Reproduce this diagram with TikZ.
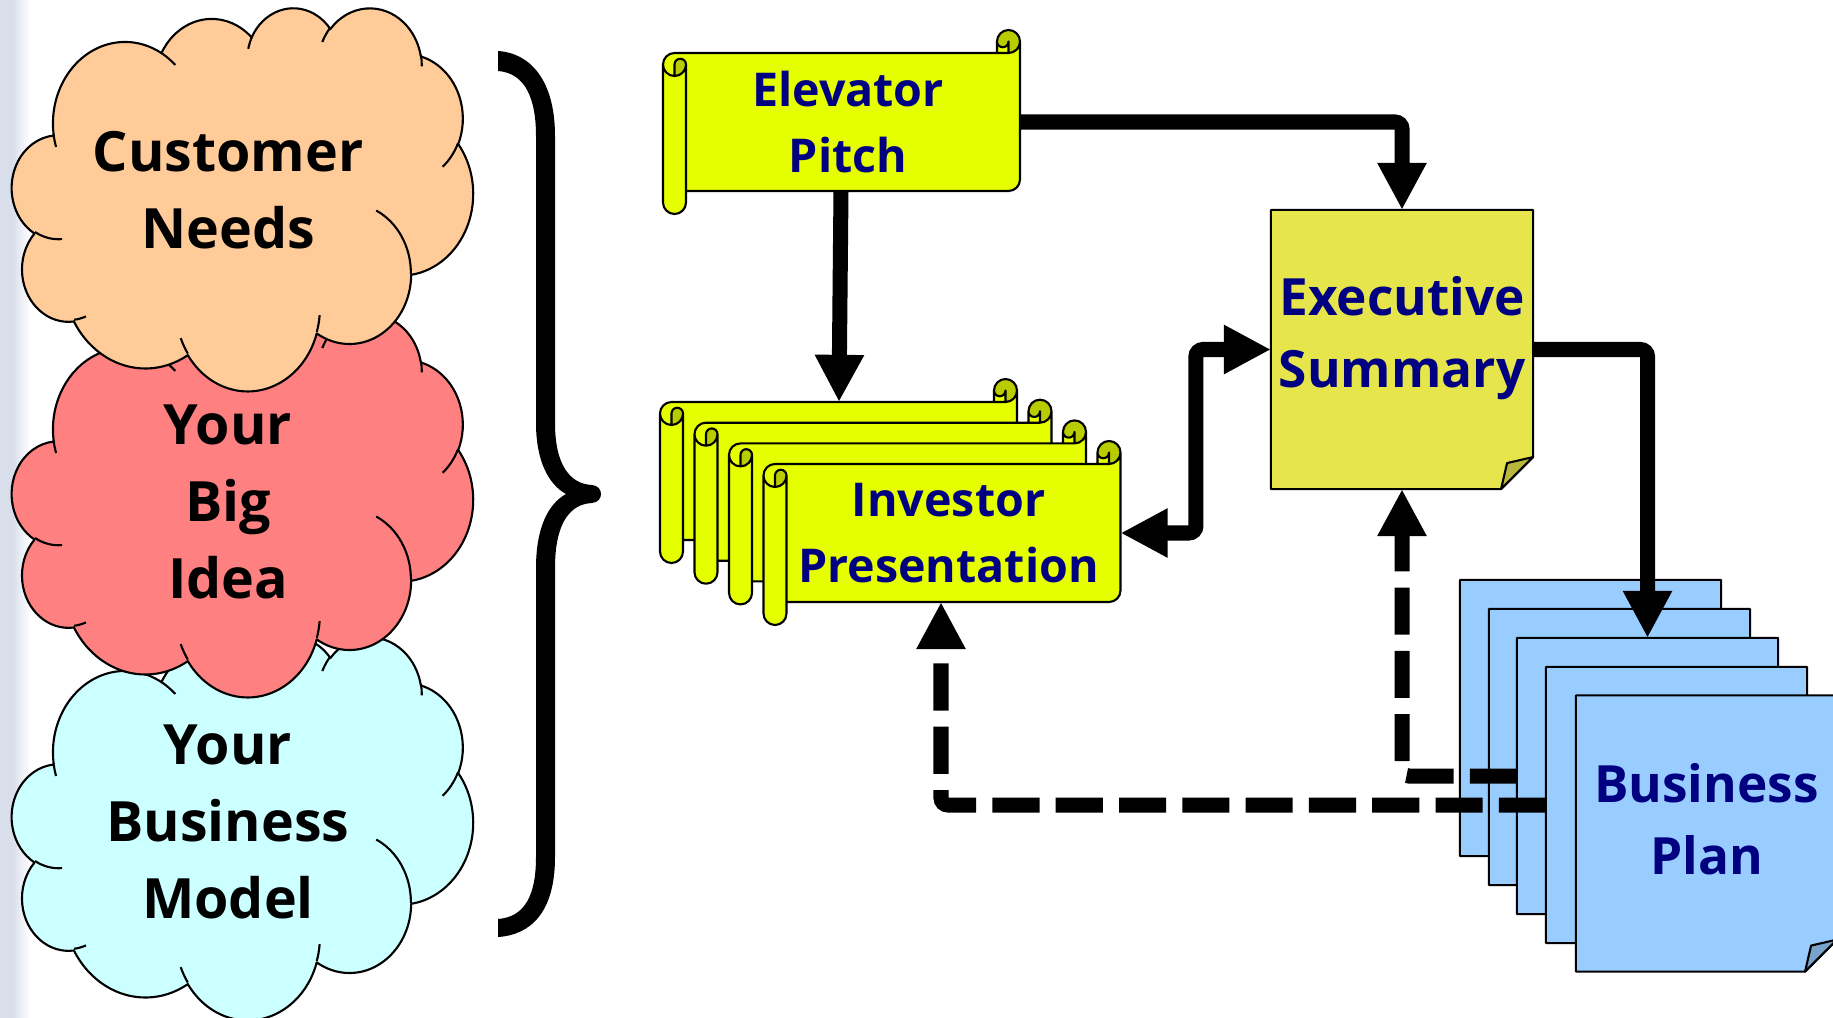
\documentclass[tikz,border=0pt]{standalone}
\usepackage{fontspec}
\setmainfont{Open Sans}
\usetikzlibrary{arrows.meta,positioning}
\definecolor{cpeach}{HTML}{FFCC99}
\definecolor{cidea}{HTML}{FF8080}
\definecolor{ccyan}{HTML}{CCFFFF}
\definecolor{scrollyel}{HTML}{E6FF00}
\definecolor{docyel}{HTML}{E6E64C}
\definecolor{docblue}{HTML}{99CCFF}
\definecolor{navy}{HTML}{000080}
\definecolor{stripgrey}{HTML}{D8DEEA}

% cloud outline, 0..100 box, scaled to 461 x 383 px
\newcommand{\ppcloud}[3]{%
  \begin{scope}[shift={(#1,#2)}, xscale=4.61, yscale=3.83]
    \filldraw[shapeline, fill=#3] (9.028,33.264)
      arc[start angle=-187.75, delta angle=128.11, x radius=15.632, y radius=21.273]
      arc[start angle=-152.02, delta angle=106.60, x radius=12.345, y radius=16.822]
      arc[start angle=-153.49, delta angle=116.16, x radius=10.104, y radius=13.762]
      arc[start angle=-139.69, delta angle=129.48, x radius=11.243, y radius=15.266]
      arc[start angle=-74.77, delta angle=97.98, x radius=12.345, y radius=16.836]
      arc[start angle=-37.53, delta angle=119.39, x radius=15.683, y radius=21.343]
      arc[start angle=0.46, delta angle=121.52, x radius=13.391, y radius=18.211]
      arc[start angle=16.84, delta angle=129.41, x radius=15.630, y radius=21.331]
      arc[start angle=58.98, delta angle=91.22, x radius=17.870, y radius=24.405]
      arc[start angle=-276.69, delta angle=139.80, x radius=10.093, y radius=13.699]
      arc[start angle=-239.65, delta angle=143.76, x radius=10.058, y radius=13.762]
      -- cycle;
    \draw[shapeline]
      (10.863,60.595) arc[start angle=85.55, delta angle=34.80, x radius=10.058, y radius=13.762]
      (16.037,80.785) arc[start angle=68.24, delta angle=15.07, x radius=10.093, y radius=13.699]
      (38.144,90.486) arc[start angle=146.25, delta angle=12.22, x radius=15.630, y radius=21.331]
      (66.729,80.442) arc[start angle=4.74, delta angle=12.10, x radius=15.630, y radius=21.331]
      (79.002,53.134) arc[start angle=-64.03, delta angle=64.49, x radius=13.391, y radius=18.211]
      (96.755,35.542) arc[start angle=23.21, delta angle=26.42, x radius=12.345, y radius=16.836]
      (88.713,12.560) arc[start angle=-10.21, delta angle=11.03, x radius=11.243, y radius=15.266]
      (67.310,9.148) arc[start angle=-156.29, delta angle=16.60, x radius=11.243, y radius=15.266]
      (51.252,10.926) arc[start angle=-167.73, delta angle=14.24, x radius=10.104, y radius=13.762]
      (32.407,12.019) arc[start angle=-59.64, delta angle=13.90, x radius=15.632, y radius=21.273]
      (9.553,36.549) arc[start angle=163.19, delta angle=9.06, x radius=15.632, y radius=21.273];
  \end{scope}}

% horizontal scroll, 357 x 184 px, from its top left corner
\newcommand{\hscroll}[2]{%
  \begin{scope}[shift={(#1,#2)}]
    \fill[scrollyel] (357,11.5) arc[start angle=0, delta angle=90, radius=11.5]
      -- (345.5,11.5) arc[start angle=0, delta angle=180, radius=5.75]
      -- (334,23) -- (11.5,23) arc[start angle=270, delta angle=-90, radius=11.5]
      -- (0,172.5) arc[start angle=180, delta angle=-180, radius=11.5]
      -- (23,161) -- (345.5,161) arc[start angle=90, delta angle=-90, radius=11.5] -- cycle;
    \fill[scrollyel!80!black] (11.5,46) arc[start angle=90, delta angle=-90, radius=11.5]
      arc[start angle=0, delta angle=-180, radius=5.75] -- cycle
      (345.5,23) arc[start angle=90, delta angle=-270, radius=11.5]
      arc[start angle=180, delta angle=-180, radius=5.75] -- cycle;
    \draw[shapeline] (0,34.5) arc[start angle=180, delta angle=90, radius=11.5]
      -- (334,23) -- (334,11.5) arc[start angle=180, delta angle=180, radius=11.5]
      -- (357,149.5) arc[start angle=0, delta angle=90, radius=11.5]
      -- (23,161) -- (23,172.5) arc[start angle=0, delta angle=180, radius=11.5] -- cycle
      (334,23) -- (345.5,23) arc[start angle=90, delta angle=-90, radius=11.5]
      (345.5,23) -- (345.5,11.5) arc[start angle=0, delta angle=180, radius=5.75]
      (11.5,46) -- (11.5,34.5) arc[start angle=180, delta angle=180, radius=5.75]
      arc[start angle=0, delta angle=180, radius=11.5]
      (23,34.5) -- (23,161);
  \end{scope}}

% page with folded corner, drawn on a node
\newcommand{\foldpage}[2]{%
  \filldraw[shapeline, fill=#2] (#1.north west) -- (#1.north east)
    -- ([yshift=0.32cm]#1.south east) -- ([xshift=-0.32cm]#1.south east)
    -- (#1.south west) -- cycle;
  \filldraw[shapeline, fill=#2!80!black] ([xshift=-0.32cm]#1.south east)
    -- ([xshift=-0.26cm,yshift=0.26cm]#1.south east) -- ([yshift=0.32cm]#1.south east) -- cycle;}

\begin{document}
\begin{tikzpicture}[x=0.01cm, y=-0.01cm,
    shapeline/.style={draw=black, line width=0.6pt, line join=round},
    cloudtext/.style={font=\fontsize{15.8}{22}\selectfont\bfseries, align=center, text=black},
    scrolltext/.style={font=\fontsize{13.25}{18.8}\selectfont\bfseries, align=center, text=navy},
    doctext/.style={font=\fontsize{14.6}{20.4}\selectfont\bfseries, align=center, text=navy},
    scrollbody/.style={minimum width=3.34cm, minimum height=1.38cm, inner sep=0pt, outer sep=0pt},
    pagebox/.style={minimum width=2.61cm, minimum height=2.76cm, inner sep=0pt, outer sep=0pt},
    flow/.style={line width=4.27pt, -{Triangle[length=13.4pt,width=13.1pt]}, rounded corners=2pt},
    dashflow/.style={flow, dash pattern=on 13.4pt off 4.6pt}]
  \useasboundingbox (0,0) rectangle (1833,1018);
  \fill[white] (0,0) rectangle (1833,1018);
  \fill[stripgrey] (0,0) rectangle (12,1018);
  \shade[left color=stripgrey, right color=white] (12,0) rectangle (30,1018);

  % the three clouds
  \ppcloud{12}{636}{ccyan}
  \ppcloud{12}{313}{cidea}
  \ppcloud{12}{7}{cpeach}
  \node[cloudtext] (cneeds) at (228,190) {Customer\\Needs};
  \node[cloudtext] (cbig) at (228,502) {Your\\Big\\Idea};
  \node[cloudtext] (cmodel) at (228,822) {Your\\Business\\Model};

  % brace
  \fill (498,51) .. controls (530,53) and (555,80) .. (555,136) -- (555,423)
    .. controls (555,465) and (570,484) .. (592,485)
    .. controls (604,486) and (604,502) .. (592,503)
    .. controls (570,504) and (555,523) .. (555,568) -- (555,857)
    .. controls (555,913) and (530,935) .. (498,937) -- (498,919)
    .. controls (525,917) and (536,895) .. (536,857) -- (536,568)
    .. controls (536,528) and (548,504) .. (566,494)
    .. controls (548,484) and (536,460) .. (536,423) -- (536,136)
    .. controls (536,98) and (525,73) .. (498,71) -- cycle;

  % scrolls
  \hscroll{663}{30}
  \node[scrollbody] (elev) at (853,122) {};
  \node[scrolltext] (elevtxt) at ([xshift=-0.05cm]elev.center) {Elevator\\Pitch};
  \hscroll{660}{379}
  \node[scrollbody] (inv1) at (850,471) {};
  \hscroll{694.5}{399.7}
  \node[scrollbody] (inv2) at (884.5,491.7) {};
  \hscroll{729}{420.4}
  \node[scrollbody] (inv3) at (919,512.4) {};
  \hscroll{763.5}{441}
  \node[scrollbody] (inv) at (953.5,533) {};
  \node[scrolltext] (invtxt) at ([xshift=-0.05cm]inv.center) {Investor\\Presentation};

  % documents
  \node[pagebox, minimum width=2.62cm, minimum height=2.79cm] (exec) at (1402,349.5) {};
  \foldpage{exec}{docyel}
  \node[doctext] (exectxt) at ([yshift=0.11cm]exec.center) {Executive\\Summary};

  \node[pagebox] (plan1) at (1590.5,718) {};
  \foldpage{plan1}{docblue}
  \node[pagebox] (plan2) at (1619.5,747) {};
  \foldpage{plan2}{docblue}
  \node[pagebox] (plan3) at (1647.5,776) {};
  \foldpage{plan3}{docblue}
  \node[pagebox] (plan4) at (1676.5,805) {};
  \foldpage{plan4}{docblue}
  \node[pagebox] (plan5) at (1706.5,833.5) {};
  \foldpage{plan5}{docblue}
  \node[doctext] (plantxt) at ([yshift=0.14cm]plan5.center) {Business\\Plan};

  % connectors
  \draw[flow] (elev.east) -| (exec.north);
  \draw[flow] ([xshift=-0.12cm]elev.south) -- ([xshift=-0.11cm]inv1.north);
  \draw[flow] (exec.east) -| (plan3.north);
  \draw[flow, {Triangle[length=13.4pt,width=13.1pt]}-{Triangle[length=13.4pt,width=13.1pt]}]
    (exec.west) -- ++(-75,0) |- (inv.east);
  \draw[dashflow] (plan4.west) -| ([xshift=-0.125cm]inv.south);
  \draw[dashflow] (plan3.west) -| (exec.south);
\end{tikzpicture}
\end{document}
